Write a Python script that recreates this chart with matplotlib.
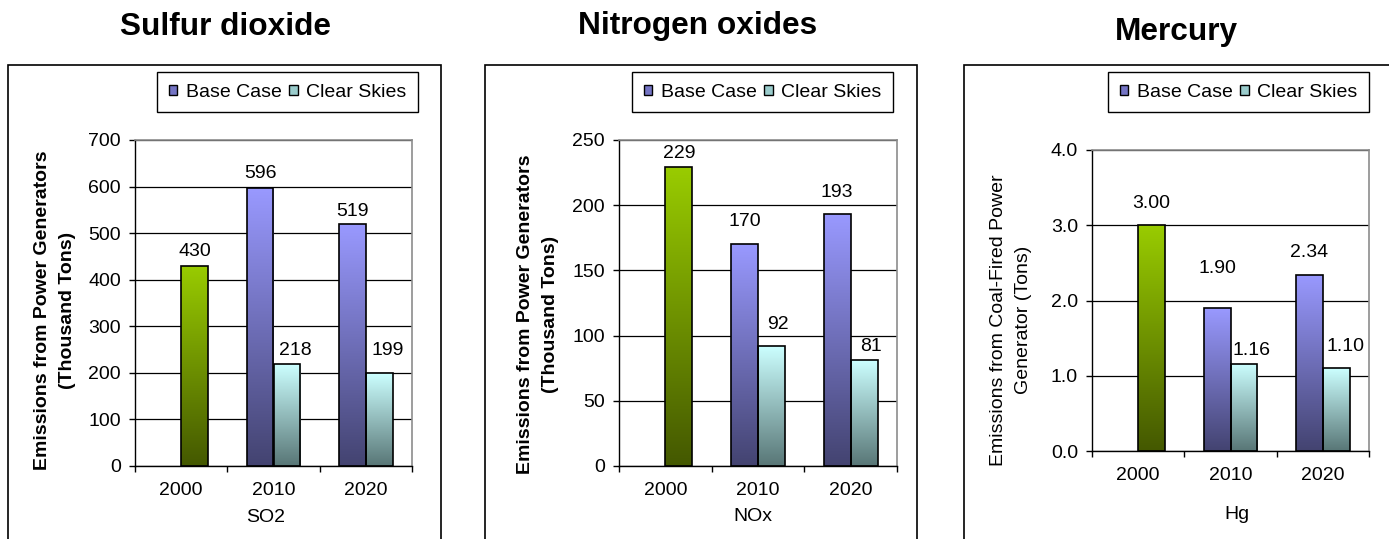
import numpy as np
import matplotlib.pyplot as plt
from matplotlib.patches import Rectangle, Patch
from matplotlib.colors import LinearSegmentedColormap

plt.rcParams['font.family'] = ['Liberation Sans', 'DejaVu Sans']

years = ['2000', '2010', '2020']
series = ['Base Case', 'Clear Skies']

# 2000 is the observed year (green bar); 2010/2020 are projections
so2_2000 = 430
so2_base = [596, 519]
so2_clear = [218, 199]

nox_2000 = 229
nox_base = [170, 193]
nox_clear = [92, 81]

hg_2000 = 3.00
hg_base = [1.90, 2.34]
hg_clear = [1.16, 1.10]

W, H = 1389, 539
fig = plt.figure(figsize=(W / 100, H / 100), dpi=100)


def fx(px):
    return px / W


def fy(py):
    return 1 - py / H


def pt(px):
    return px * 0.72


cm_green = LinearSegmentedColormap.from_list('green', ['#445800', '#99CC00'])
cm_base = LinearSegmentedColormap.from_list('base', ['#434370', '#9999FF'])
cm_clear = LinearSegmentedColormap.from_list('clear', ['#587676', '#CCFFFF'])
grad = np.linspace(0, 1, 256).reshape(-1, 1)
width = 0.29
fs = 14


def gradient_bars(ax, bars, cmap):
    # fill each bar with a vertical dark->light gradient, clipped to the bar
    for b in bars:
        x0, w, h = b.get_x(), b.get_width(), b.get_height()
        im = ax.imshow(grad, extent=[x0, x0 + w, 0, h], origin='lower',
                       aspect='auto', cmap=cmap, zorder=2, interpolation='bilinear')
        im.set_clip_path(b)
        b.set_facecolor('none')


panels = [
    dict(first=so2_2000, base=so2_base, clear=so2_clear, ymax=700, ystep=100, fmt='{:.0f}',
         title='Sulfur dioxide', title_xy=(226, 35), box=(135, 140, 412, 466), frame=(8, 441),
         xlabel='SO2', xlabel_xy=(266, 509),
         ylabel='Emissions from Power Generators\n(Thousand Tons)', ylabel_xy=(76, 310), bold=True,
         legend_xy=(157, 72),
         offsets=[(0, 10), (0, 10), (0, 8), (8, 9), (8, 18)]),
    dict(first=nox_2000, base=nox_base, clear=nox_clear, ymax=250, ystep=50, fmt='{:.0f}',
         title='Nitrogen oxides', title_xy=(698, 34), box=(619, 140, 897, 466), frame=(485, 917),
         xlabel='NOx', xlabel_xy=(753, 508),
         ylabel='Emissions from Power Generators\n(Thousand Tons)', ylabel_xy=(559, 314), bold=True,
         legend_xy=(632, 72),
         offsets=[(0, 9), (0, 18), (0, 17), (7, 17), (7, 9)]),
    dict(first=hg_2000, base=hg_base, clear=hg_clear, ymax=4.0, ystep=1.0, fmt='{:.2f}',
         title='Mercury', title_xy=(1176, 40), box=(1092, 150, 1369, 451), frame=(964, 1400),
         xlabel='Hg', xlabel_xy=(1237, 506),
         ylabel='Emissions from Coal-Fired Power\nGenerator (Tons)', ylabel_xy=(1032, 320), bold=False,
         legend_xy=(1108, 72),
         offsets=[(0, 17), (0, 35), (0, 18), (8, 9), (9, 17)]),
]

x = np.arange(len(years))

for p in panels:
    l, t, r, b = p['box']
    ax = fig.add_axes([fx(l), fy(b), fx(r) - fx(l), fy(t) - fy(b)])

    # outer frame around each chart (runs off the bottom of the page)
    fl, fr = p['frame']
    fig.add_artist(Rectangle((fx(fl), -0.2), fx(fr) - fx(fl), fy(65) + 0.2,
                             transform=fig.transFigure, fill=False, edgecolor='black', lw=1.2))

    b0 = ax.bar(x[:1] + width / 2, [p['first']], width, edgecolor='black', lw=1.2, zorder=3)
    b1 = ax.bar(x[1:] - width / 2, p['base'], width, edgecolor='black', lw=1.2, zorder=3)
    b2 = ax.bar(x[1:] + width / 2, p['clear'], width, edgecolor='black', lw=1.2, zorder=3)
    gradient_bars(ax, b0, cm_green)
    gradient_bars(ax, b1, cm_base)
    gradient_bars(ax, b2, cm_clear)

    # value labels
    allbars = list(b0) + list(b1) + list(b2)
    for bar, (dx, dy) in zip(allbars, p['offsets']):
        ax.annotate(p['fmt'].format(bar.get_height()),
                    xy=(bar.get_x() + bar.get_width() / 2, bar.get_height()),
                    xytext=(pt(dx), pt(dy)), textcoords='offset points',
                    ha='center', va='baseline', fontsize=fs, zorder=5)

    ax.set_xlim(-0.5, len(years) - 0.5)
    ax.set_ylim(0, p['ymax'])
    ax.set_yticks(np.arange(0, p['ymax'] + p['ystep'] / 2, p['ystep']))
    if p['fmt'] == '{:.2f}':
        ax.set_yticklabels([f'{v:.1f}' for v in ax.get_yticks()])
    ax.set_xticks(np.arange(len(years) + 1) - 0.5)
    ax.set_xticklabels([])
    ax.set_xticks(x, minor=True)
    ax.set_xticklabels(years, minor=True)
    ax.tick_params(axis='x', which='major', direction='out', length=pt(6), width=1, color='black')
    ax.tick_params(axis='x', which='minor', length=0, pad=11.5, labelsize=fs)
    ax.tick_params(axis='y', direction='out', length=pt(6), width=1, pad=pt(8), labelsize=fs)

    ax.set_axisbelow(True)
    ax.yaxis.grid(True, color='black', lw=0.9)
    for side in ['top', 'right']:
        ax.spines[side].set_color('#8c8c8c')
        ax.spines[side].set_linewidth(1.2)
    for side in ['left', 'bottom']:
        ax.spines[side].set_linewidth(1.0)

    ax.set_xlabel(p['xlabel'], fontsize=fs)
    ax.xaxis.set_label_coords(fx(p['xlabel_xy'][0]), fy(p['xlabel_xy'][1]), transform=fig.transFigure)
    ax.set_ylabel(p['ylabel'], fontsize=fs, fontweight='bold' if p['bold'] else 'normal',
                  linespacing=1.6)
    ax.yaxis.set_label_coords(fx(p['ylabel_xy'][0]), fy(p['ylabel_xy'][1]), transform=fig.transFigure)

    fig.text(fx(p['title_xy'][0]), fy(p['title_xy'][1]), p['title'], fontsize=22.8,
             fontweight='bold', ha='center', va='baseline')

    handles = [Patch(facecolor='#7474C4', edgecolor='black', lw=1.0),
               Patch(facecolor='#9ACCCC', edgecolor='black', lw=1.0)]
    leg = ax.legend(handles, series, loc='upper left', ncol=2, fontsize=fs,
                    bbox_to_anchor=(fx(p['legend_xy'][0]), fy(p['legend_xy'][1])),
                    bbox_transform=fig.transFigure, borderaxespad=0, frameon=True,
                    fancybox=False, framealpha=1, edgecolor='black',
                    handlelength=0.45, handleheight=0.45, handletextpad=0.45,
                    columnspacing=0.35, borderpad=0.6)
    leg.get_frame().set_linewidth(1.0)

fig.savefig('out.png', dpi=100)
